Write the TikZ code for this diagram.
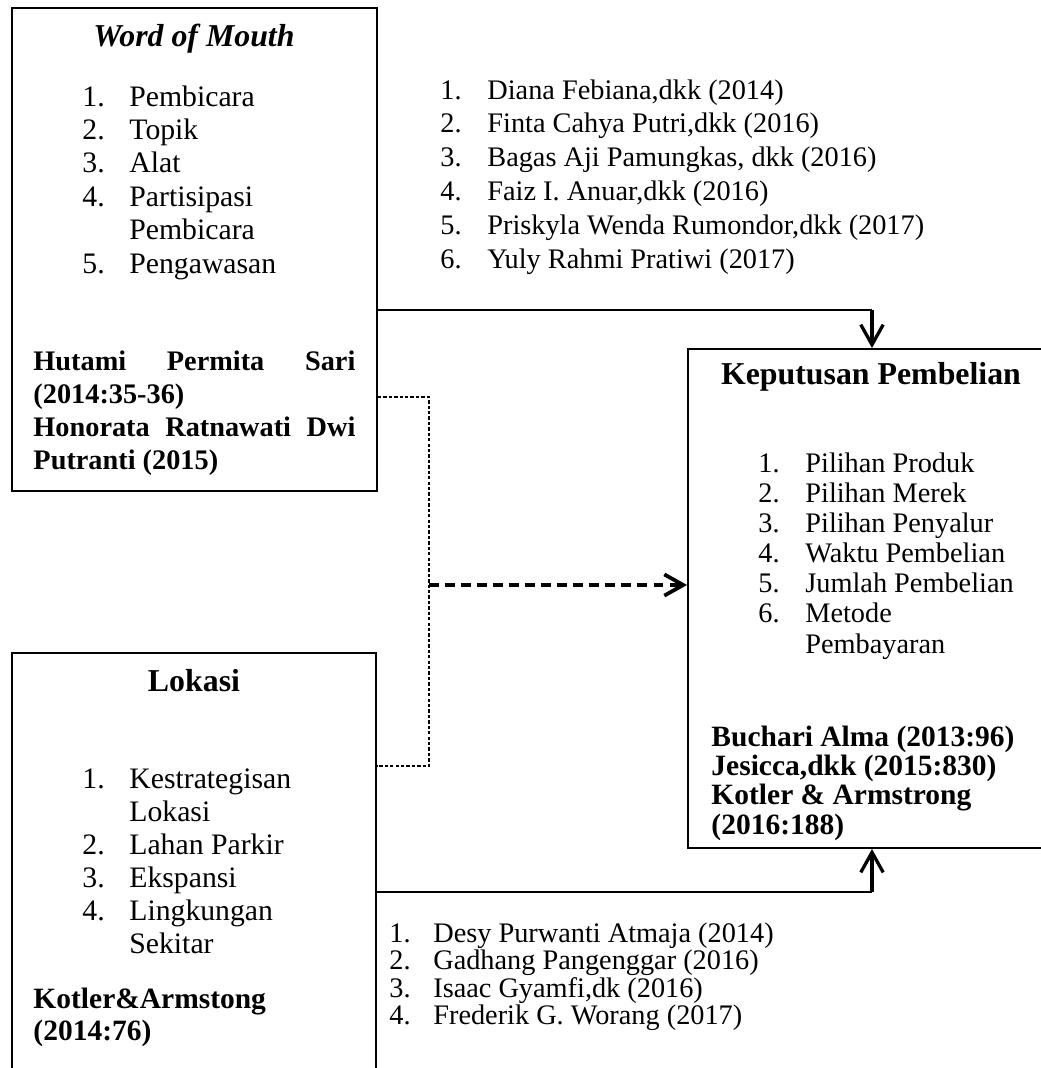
\documentclass[tikz,border=0pt]{standalone}
\usepackage{fontspec}
\setmainfont{Liberation Serif}
\usetikzlibrary{arrows.meta,fit}
\tikzset{
  box/.style={draw, line width=0.8pt, inner sep=0pt},
  txt/.style={anchor=base west, inner sep=0pt, font=\fontsize{12}{14.2}\selectfont},
  head/.style={anchor=base, inner sep=0pt, font=\fontsize{13.5}{16}\selectfont\bfseries},
  link/.style={line width=0.8pt},
  flow/.style={line width=1.4pt, -{Straight Barb[length=8.5pt,width=9.5pt]}},
  weak/.style={line width=0.5pt, dash pattern=on 1.4pt off 0.9pt},
  hyp/.style={line width=1.6pt, dash pattern=on 4.2pt off 2.6pt, -{Straight Barb[length=8pt,width=9pt]}}
}
\newcommand{\numlist}[2][19.9pt]{\begin{tabular}[t]{@{}p{#1}@{}l@{}}#2\end{tabular}}
\newcommand{\reflist}[1]{\begin{tabular}[t]{@{}l@{}}#1\end{tabular}}
\begin{document}
\begin{tikzpicture}[x=0.424pt,y=-0.424pt]
\useasboundingbox (0,0) rectangle (1041,1068);
\clip (0,0) rectangle (1041,1068);
% boxes
\node[box, fit={(12,8) (377,491)}] (wom) {};
\node[box, fit={(12,653) (376,1100)}] (lok) {};
\node[box, fit={(688,349) (1070,848)}] (kp) {};

% word of mouth
\node[head, font=\fontsize{13.5}{16}\selectfont\bfseries\itshape] (womT) at (194,46) {Word of Mouth};
\node[txt, font=\fontsize{12.6}{14.2}\selectfont] (womL) at (82,106) {\numlist{1.&Pembicara\\2.&Topik\\3.&Alat\\4.&Partisipasi\\&Pembicara\\5.&Pengawasan}};
\node[txt, font=\fontsize{12}{14}\selectfont\bfseries] (womR) at (33,370) {\reflist{\makebox[136.5pt][s]{Hutami Permita Sari}\\(2014:35-36)\\\makebox[136.5pt][s]{Honorata Ratnawati Dwi}\\Putranti (2015)}};
\node[txt, font=\fontsize{12}{14.4}\selectfont] (womS) at (440,99) {\numlist{1.&Diana Febiana,dkk (2014)\\2.&Finta Cahya Putri,dkk (2016)\\3.&Bagas Aji Pamungkas, dkk (2016)\\4.&Faiz I. Anuar,dkk (2016)\\5.&Priskyla Wenda Rumondor,dkk (2017)\\6.&Yuly Rahmi Pratiwi (2017)}};

% keputusan pembelian
\node[head] (kpT) at (871,384) {Keputusan Pembelian};
\node[txt, font=\fontsize{12}{12.8}\selectfont] (kpL) at (758,472) {\numlist{1.&Pilihan Produk\\2.&Pilihan Merek\\3.&Pilihan Penyalur\\4.&Waktu Pembelian\\5.&Jumlah Pembelian\\6.&Metode\\&Pembayaran}};
\node[txt, font=\fontsize{12.5}{12.5}\selectfont\bfseries] (kpR) at (711,746) {\reflist{Buchari Alma (2013:96)\\Jesicca,dkk (2015:830)\\Kotler \& Armstrong\\(2016:188)}};

% lokasi
\node[head] (lokT) at (194,691) {Lokasi};
\node[txt, font=\fontsize{12.6}{14}\selectfont] (lokL) at (82,788) {\numlist{1.&Kestrategisan\\&Lokasi\\2.&Lahan Parkir\\3.&Ekspansi\\4.&Lingkungan\\&Sekitar}};
\node[txt, font=\fontsize{12.5}{13.6}\selectfont\bfseries] (lokR) at (33,1008) {\reflist{Kotler\&Armstong\\(2014:76)}};
\node[txt, font=\fontsize{12}{11}\selectfont] (lokS) at (389,942) {\numlist[18.6pt]{1.&Desy Purwanti Atmaja (2014)\\2.&Gadhang Pangenggar (2016)\\3.&Isaac Gyamfi,dk (2016)\\4.&Frederik G. Worang (2017)}};

% connectors
\coordinate (kpA) at (872,310);
\coordinate (kpB) at (872,892);
\coordinate (mid) at (429,585);
\draw[link] (wom.east |- kpA) -- (kpA);
\draw[flow] (kpA) -- (kp.north -| kpA);
\draw[link] (lok.east |- kpB) -- (kpB);
\draw[flow] (kpB) -- (kp.south -| kpB);
\draw[weak] (wom.east |- 0,397) -| (mid) |- (lok.east |- 0,766);
\draw[hyp] (mid) -- (kp.west |- mid);
\end{tikzpicture}
\end{document}
